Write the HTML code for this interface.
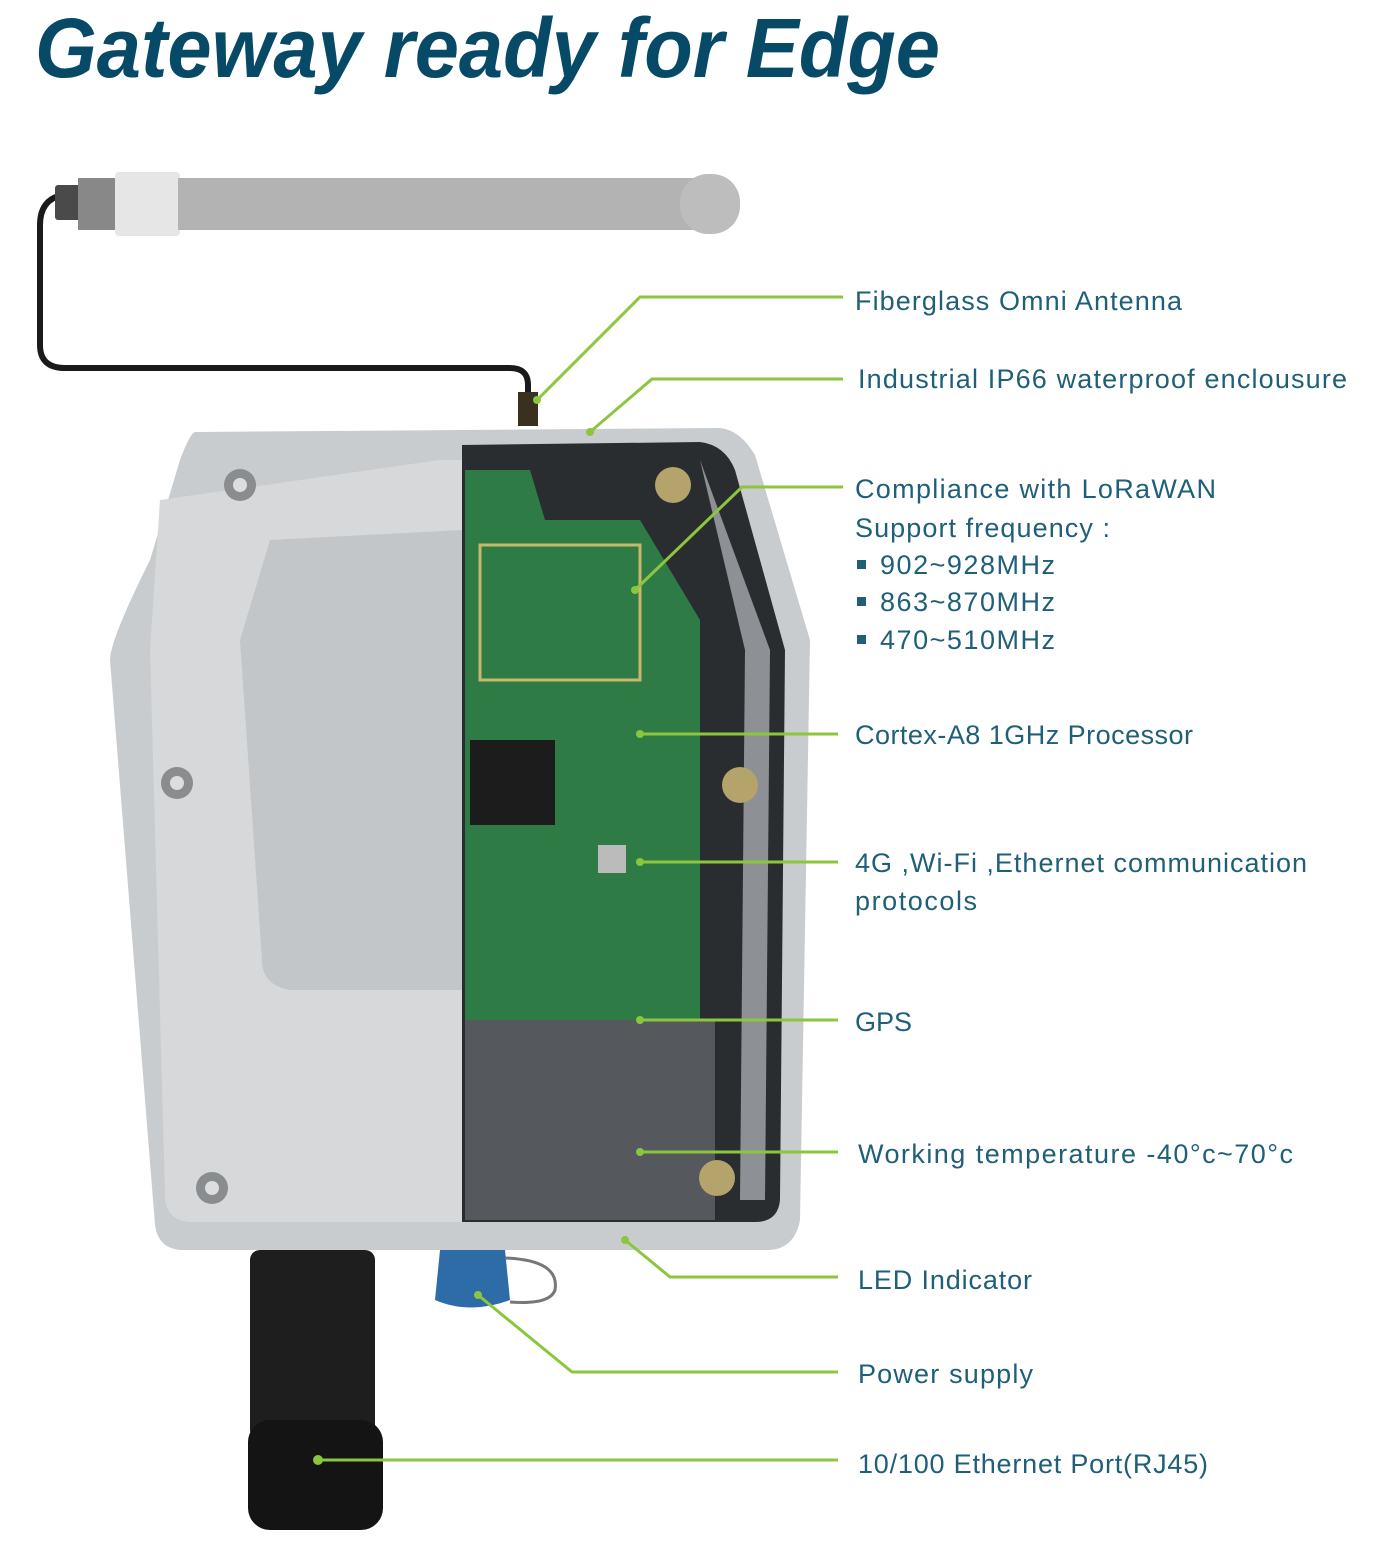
<!DOCTYPE html>
<html><head><meta charset="utf-8"><style>
html,body{margin:0;padding:0;background:#fff;}
svg{display:block;}
text{font-family:"Liberation Sans",sans-serif;}
.l{fill:#1f5f78;font-size:27px;}
</style></head><body>
<svg width="1380" height="1542" viewBox="0 0 1380 1542" xmlns="http://www.w3.org/2000/svg">
<text x="35" y="77" font-size="84" font-weight="bold" font-style="italic" fill="#064a68" textLength="905" lengthAdjust="spacingAndGlyphs">Gateway ready for Edge</text>
<!-- antenna -->
<path d="M62,195 Q40,200 40,225 L40,345 Q40,368 65,368 L510,368 Q528,368 528,385 L528,400" fill="none" stroke="#1a1a1a" stroke-width="6"/>
<rect x="518" y="392" width="20" height="34" fill="#3a3020"/>
<rect x="55" y="185" width="30" height="35" rx="3" fill="#4a4a4a"/>
<rect x="78" y="178" width="40" height="52" fill="#888"/>
<rect x="115" y="172" width="65" height="64" rx="4" fill="#e6e6e6"/>
<rect x="178" y="178" width="520" height="52" fill="#b3b3b3"/>
<rect x="680" y="174" width="60" height="60" rx="28" fill="#bdbdbd"/>
<!-- body -->
<path d="M195,432 L720,428 Q740,430 755,455 L810,640 L800,1220 Q795,1248 770,1250 L180,1250 Q158,1248 155,1225 L110,660 Q110,640 150,560 L180,460 Q190,433 195,432 Z" fill="#c9ccce"/>
<path d="M462,445 L700,442 Q725,445 735,470 L785,650 L780,1200 Q778,1222 755,1222 L462,1222 Z" fill="#2a2d30"/>
<path d="M700,460 L770,650 L765,1200 L740,1200 L745,650 Z" fill="#8d9195"/>
<rect x="465" y="1020" width="250" height="200" fill="#55595d"/>
<path d="M465,470 L530,470 L545,520 L640,520 L700,620 L700,1020 L465,1020 Z" fill="#2f7b45"/>
<rect x="480" y="545" width="160" height="135" fill="none" stroke="#c8b96a" stroke-width="3"/>
<rect x="470" y="740" width="85" height="85" fill="#1c1c1c"/>
<rect x="598" y="845" width="28" height="28" fill="#bbb"/>
<path d="M160,500 L440,460 L462,460 L462,1222 L190,1222 Q165,1220 165,1195 L150,650 Z" fill="#d6d8da"/>
<path d="M270,540 L462,530 L462,990 L290,990 Q262,985 262,960 L240,640 Z" fill="#c3c6c9"/>
<circle cx="240" cy="485" r="16" fill="#8a8d90"/><circle cx="240" cy="485" r="7" fill="#ddd"/>
<circle cx="177" cy="783" r="16" fill="#8a8d90"/><circle cx="177" cy="783" r="7" fill="#ddd"/>
<circle cx="212" cy="1188" r="16" fill="#8a8d90"/><circle cx="212" cy="1188" r="7" fill="#ddd"/>
<circle cx="673" cy="485" r="18" fill="#b4a36a"/><circle cx="740" cy="785" r="18" fill="#b4a36a"/><circle cx="717" cy="1178" r="18" fill="#b4a36a"/>
<!-- connectors -->
<rect x="250" y="1250" width="125" height="190" rx="10" fill="#1e1e1e"/>
<rect x="248" y="1420" width="135" height="110" rx="22" fill="#141414"/>
<path d="M440,1250 L505,1250 L510,1300 Q470,1315 435,1300 Z" fill="#2e6ca8"/>
<path d="M505,1258 Q560,1260 555,1290 Q550,1305 510,1302" fill="none" stroke="#777" stroke-width="3"/>
<!-- leader lines -->
<g fill="none" stroke="#8cc63f" stroke-width="3">
<polyline points="537,400 640,297 843,297"/>
<polyline points="590,432 652,379 843,379"/>
<polyline points="635,590 742,487 843,487"/>
<polyline points="640,734 838,734"/>
<polyline points="640,862 838,862"/>
<polyline points="640,1020 838,1020"/>
<polyline points="640,1152 838,1152"/>
<polyline points="625,1240 670,1277 838,1277"/>
<polyline points="478,1295 572,1372 838,1372"/>
<polyline points="318,1460 838,1460"/>
</g>
<g fill="#8cc63f"><circle cx="537" cy="400" r="4"/><circle cx="590" cy="432" r="4"/><circle cx="635" cy="590" r="4"/><circle cx="640" cy="734" r="4"/><circle cx="640" cy="862" r="4"/><circle cx="640" cy="1020" r="4"/><circle cx="640" cy="1152" r="4"/><circle cx="625" cy="1240" r="4"/><circle cx="478" cy="1295" r="4"/><circle cx="318" cy="1460" r="5"/></g>
<!-- labels -->
<text class="l" x="855" y="310" textLength="327">Fiberglass Omni Antenna</text>
<text class="l" x="858" y="388" textLength="489">Industrial IP66 waterproof enclousure</text>
<text class="l" x="855" y="498" textLength="361">Compliance  with LoRaWAN</text>
<text class="l" x="855" y="537" textLength="255">Support frequency :</text>
<rect x="857" y="560" width="9" height="9" fill="#1f5f78"/><text class="l" x="880" y="574" textLength="175">902~928MHz</text>
<rect x="857" y="597" width="9" height="9" fill="#1f5f78"/><text class="l" x="880" y="611" textLength="175">863~870MHz</text>
<rect x="857" y="635" width="9" height="9" fill="#1f5f78"/><text class="l" x="880" y="649" textLength="175">470~510MHz</text>
<text class="l" x="855" y="744" textLength="338">Cortex-A8 1GHz Processor</text>
<text class="l" x="855" y="872" textLength="452">4G ,Wi-Fi ,Ethernet communication</text>
<text class="l" x="855" y="910" textLength="122">protocols</text>
<text class="l" x="855" y="1031">GPS</text>
<text class="l" x="858" y="1163" textLength="435">Working temperature  -40°c~70°c</text>
<text class="l" x="858" y="1289" textLength="174">LED Indicator</text>
<text class="l" x="858" y="1383" textLength="175">Power supply</text>
<text class="l" x="858" y="1473" textLength="350">10/100 Ethernet Port(RJ45)</text>
</svg>
</body></html>
